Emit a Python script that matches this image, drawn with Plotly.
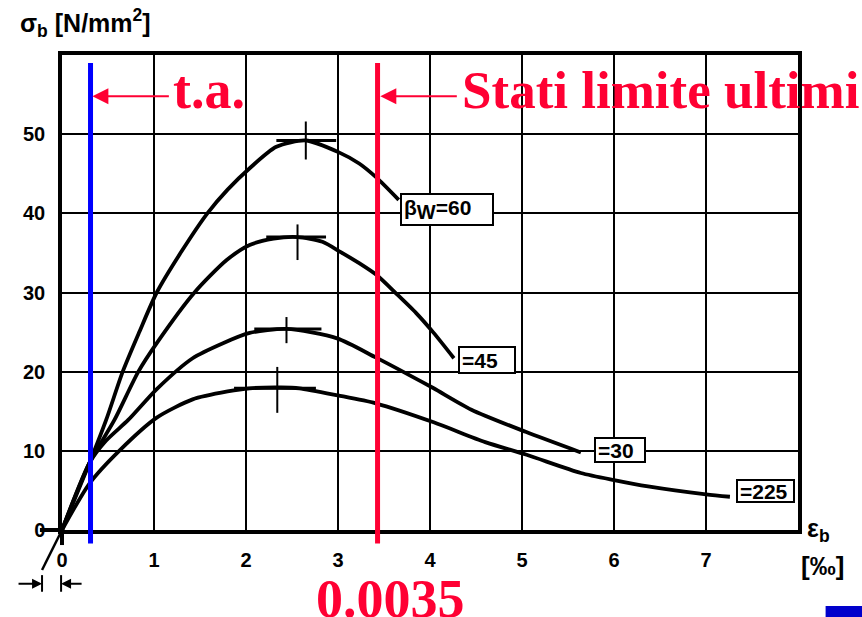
import plotly.graph_objects as go

# ---------------- data ----------------
curve_labels = ["β<sub><span style='font-size:20px'>W</span></sub>=60", "=45", "=30", "=225"]

x_60 = [0, 0.30, 0.48, 0.66, 0.84, 1.03, 1.30, 1.58, 1.80, 2.04, 2.33, 2.65, 3.01, 3.23, 3.41, 3.66]
y_60 = [0, 8.5, 13.9, 20.0, 25.0, 30.0, 35.2, 40.0, 43.0, 45.7, 48.4, 49.2, 47.7, 46.3, 44.6, 41.7]

x_45 = [0, 0.30, 0.57, 0.83, 1.03, 1.44, 1.79, 2.04, 2.30, 2.56, 2.83, 3.03, 3.23, 3.42, 3.63, 3.85, 4.04, 4.26]
y_45 = [0, 8.5, 13.9, 20.0, 23.6, 30.0, 34.1, 36.0, 36.8, 37.0, 36.4, 35.1, 33.7, 32.2, 29.9, 27.4, 24.9, 21.7]

x_30 = [0, 0.30, 0.48, 0.72, 1.03, 1.42, 1.75, 2.04, 2.44, 2.99, 3.41, 3.77, 4.04, 4.45, 5.04, 5.64]
y_30 = [0, 8.5, 11.3, 13.9, 17.8, 21.7, 23.6, 24.9, 25.4, 24.2, 21.8, 19.6, 17.9, 15.2, 12.4, 9.8]

x_225 = [0, 0.30, 0.63, 1.03, 1.42, 1.80, 2.04, 2.38, 2.58, 3.00, 3.41, 4.04, 4.60, 5.05, 5.64, 6.00, 6.37, 7.00, 7.26]
y_225 = [0, 5.9, 10.1, 14.2, 16.5, 17.5, 17.9, 18.0, 17.9, 17.0, 16.0, 13.6, 11.1, 9.5, 7.2, 6.3, 5.5, 4.5, 4.2]

# peak scatter crosses
peak_x = [2.65, 2.56, 2.44, 2.34]
peak_y = [49.2, 37.0, 25.4, 17.9]
peak_ex_plus = [0.33, 0.31, 0.38, 0.42]
peak_ex_minus = [0.32, 0.34, 0.35, 0.47]
peak_ey_plus = [2.4, 1.6, 1.5, 2.7]
peak_ey_minus = [2.4, 2.9, 1.8, 3.1]

# label boxes (centre positions in data units)
label_x = [4.18, 4.62, 6.06, 7.65]
label_y = [40.5, 21.5, 10.1, 4.9]
label_w = [86, 50, 44, 51]
label_h = [25, 20, 18, 16]

x_ticks = [0, 1, 2, 3, 4, 5, 6, 7]
y_ticks = [0, 10, 20, 30, 40, 50]

ta_strain = 0.31      # blue line "t.a."
slu_strain = 3.43     # red line "Stati limite ultimi" (0.0035)

X_MAX, Y_MAX = 8, 60
RED = "#FF0033"
BLUE = "#0000FF"
INK = "#000000"
SCAN_FONT = "Liberation Sans"
SERIF = "Liberation Serif"

fig = go.Figure()

for xs, ys in [(x_60, y_60), (x_45, y_45), (x_30, y_30), (x_225, y_225)]:
    fig.add_trace(go.Scatter(x=xs, y=ys, mode="lines",
                             line=dict(color=INK, width=3.8, shape="spline", smoothing=0.7),
                             hoverinfo="skip", showlegend=False))

fig.add_trace(go.Scatter(
    x=peak_x, y=peak_y, mode="markers",
    marker=dict(size=1, color=INK),
    error_x=dict(type="data", symmetric=False, array=peak_ex_plus, arrayminus=peak_ex_minus,
                 width=0, thickness=3, color=INK),
    error_y=dict(type="data", symmetric=False, array=peak_ey_plus, arrayminus=peak_ey_minus,
                 width=0, thickness=2, color=INK),
    showlegend=False, hoverinfo="skip"))


def px(x):
    return x / X_MAX


def py(y):
    return y / Y_MAX


shapes = []
# vertical marker lines (extend a little below the axis)
for xv, col in [(ta_strain, BLUE), (slu_strain, RED)]:
    shapes.append(dict(type="line", xref="x", yref="paper", x0=xv, x1=xv,
                       y0=py(-1.7), y1=py(59.0), line=dict(color=col, width=5), layer="above"))
# axis extensions beyond the origin (scan details)
shapes.append(dict(type="line", xref="paper", yref="paper", x0=px(-0.24), x1=0, y0=0, y1=0,
                   line=dict(color=INK, width=4)))
shapes.append(dict(type="line", xref="paper", yref="paper", x0=0, x1=0, y0=py(-1.9), y1=0,
                   line=dict(color=INK, width=4)))
shapes.append(dict(type="line", xref="paper", yref="paper", x0=px(-0.217), x1=0, y0=py(-5.05), y1=0,
                   line=dict(color=INK, width=2.5)))
# dimension ticks
for xv in [-0.217, -0.01]:
    shapes.append(dict(type="line", xref="paper", yref="paper", x0=px(xv), x1=px(xv),
                       y0=py(-7.8), y1=py(-5.7), line=dict(color=INK, width=2)))
# small blue block bottom right
shapes.append(dict(type="rect", xref="paper", yref="paper", x0=px(8.3), x1=px(8.7),
                   y0=py(-11.1), y1=py(-9.6), line=dict(width=0), fillcolor="#0000CC"))

annotations = []
for t, lx, ly, w, h in zip(curve_labels, label_x, label_y, label_w, label_h):
    annotations.append(dict(x=lx, y=ly, xref="x", yref="y", text=t, showarrow=False,
                            font=dict(family=SCAN_FONT, size=21, color=INK, weight="bold"),
                            bgcolor="white", bordercolor=INK, borderwidth=2, borderpad=2,
                            width=w, height=h, align="left", valign="middle"))

# red arrows to the lines
for tip_x in [ta_strain + 0.02, slu_strain + 0.03]:
    annotations.append(dict(x=tip_x, y=54.8, xref="x", yref="y", ax=78, ay=0,
                            axref="pixel", ayref="pixel", text="", showarrow=True,
                            arrowhead=2, arrowsize=1.6, arrowwidth=2, arrowcolor=RED))
annotations.append(dict(x=1.18, y=55.6, xref="x", yref="y", text="<b>t.a.</b>", showarrow=False,
                        xanchor="left", yanchor="middle", font=dict(family=SERIF, size=54, color=RED)))
annotations.append(dict(x=4.33, y=55.6, xref="x", yref="y", text="<b>Stati limite ultimi</b>",
                        showarrow=False, xanchor="left", yanchor="middle",
                        font=dict(family=SERIF, size=53, color=RED)))
annotations.append(dict(x=3.57, y=py(-8.7), xref="x", yref="paper", text="<b>0.0035</b>",
                        showarrow=False, xanchor="center", yanchor="middle",
                        font=dict(family=SERIF, size=54, color=RED)))

# axis titles
annotations.append(dict(x=px(-0.48), y=py(64.0), xref="paper", yref="paper",
                        text="σ<sub>b</sub> [N/mm<sup>2</sup>]", showarrow=False,
                        xanchor="left", yanchor="middle",
                        font=dict(family=SCAN_FONT, size=25, color=INK, weight="bold")))
annotations.append(dict(x=px(8.08), y=py(0.0), xref="paper", yref="paper",
                        text="ε<sub>b</sub>", showarrow=False, xanchor="left", yanchor="middle",
                        font=dict(family=SCAN_FONT, size=25, color=INK, weight="bold")))
annotations.append(dict(x=px(8.27), y=py(-4.6), xref="paper", yref="paper",
                        text="[‰]", showarrow=False, xanchor="center", yanchor="middle",
                        font=dict(family=SCAN_FONT, size=26, color=INK, weight="bold")))
# dimension arrows
annotations.append(dict(x=px(-0.217), y=py(-6.8), xref="paper", yref="paper", ax=-25, ay=0,
                        axref="pixel", ayref="pixel", text="", showarrow=True,
                        arrowhead=2, arrowsize=1, arrowwidth=2, arrowcolor=INK))
annotations.append(dict(x=px(-0.01), y=py(-6.8), xref="paper", yref="paper", ax=22, ay=0,
                        axref="pixel", ayref="pixel", text="", showarrow=True,
                        arrowhead=2, arrowsize=1, arrowwidth=2, arrowcolor=INK))

fig.update_layout(
    width=862, height=617,
    margin=dict(l=62, r=64, t=55, b=87, pad=0, autoexpand=False),
    paper_bgcolor="white", plot_bgcolor="white",
    showlegend=False,
    shapes=shapes, annotations=annotations,
    xaxis=dict(range=[0, X_MAX], tickvals=x_ticks, ticktext=[str(v) for v in x_ticks],
               showgrid=True, gridcolor=INK, gridwidth=2, zeroline=False, automargin=False,
               showline=True, linecolor=INK, linewidth=3.5, mirror=True,
               ticks="outside", ticklen=9, tickcolor="rgba(0,0,0,0)",
               tickfont=dict(family=SCAN_FONT, size=20, color=INK, weight="bold")),
    yaxis=dict(range=[0, Y_MAX], tickvals=y_ticks, ticktext=[str(v) for v in y_ticks],
               showgrid=True, gridcolor=INK, gridwidth=2, zeroline=False, automargin=False,
               showline=True, linecolor=INK, linewidth=3.5, mirror=True,
               ticks="outside", ticklen=9, tickcolor="rgba(0,0,0,0)",
               tickfont=dict(family=SCAN_FONT, size=20, color=INK, weight="bold")),
)

fig.write_html("out.html", config={"displayModeBar": False},
               post_script="document.body.style.margin='0px';document.body.style.overflow='hidden';")
